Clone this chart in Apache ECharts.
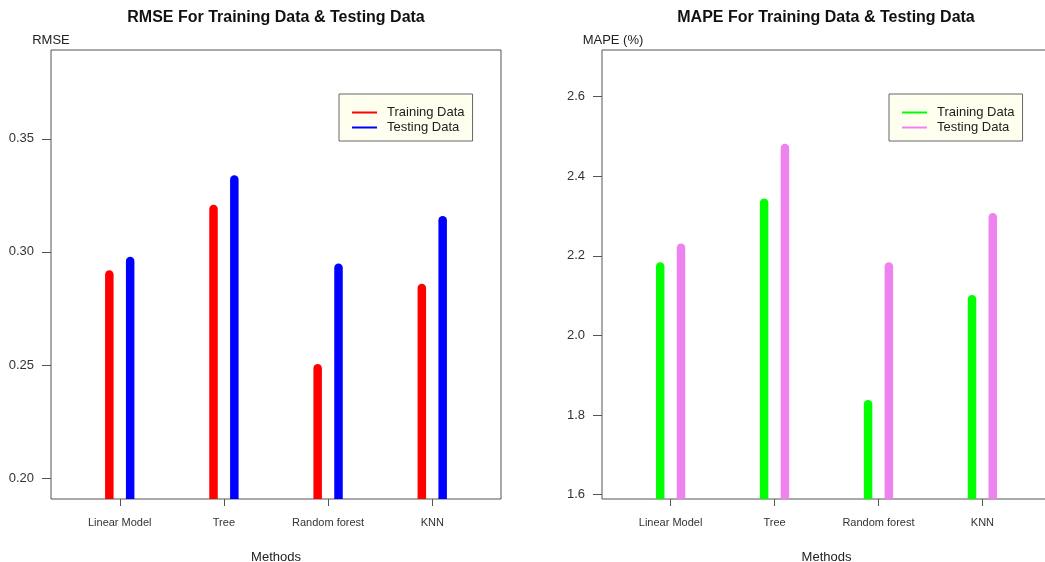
<!DOCTYPE html>
<html><head><meta charset="utf-8">
<script src="https://cdn.jsdelivr.net/npm/echarts@6/dist/echarts.min.js"></script>
<style>html,body{margin:0;padding:0;background:#fff}#c{width:1045px;height:562px}</style>
</head><body><div id="c"></div>
<script>
// ---- data ----
const methods = ['Linear Model', 'Tree', 'Random forest', 'KNN'];
const rmseTrain = [0.290, 0.319, 0.2485, 0.284];
const rmseTest  = [0.296, 0.332, 0.293, 0.314];
const mapeTrain = [2.173, 2.333, 1.827, 2.091];
const mapeTest  = [2.220, 2.471, 2.173, 2.297];
const rmseTicks = [0.20, 0.25, 0.30, 0.35];
const mapeTicks = [1.6, 1.8, 2.0, 2.2, 2.4, 2.6];
const seriesLabels = ['Training Data', 'Testing Data'];
const titles = ['RMSE For Training Data & Testing Data', 'MAPE For Training Data & Testing Data'];
const yNames = ['RMSE', 'MAPE (%)'];
const xName = 'Methods';

// ---- styling / layout ----
const FONT = '"Liberation Sans", Arial, Helvetica, sans-serif';
const OFFSET = 0.1; // pair offset around each category position
const catPos = methods.map((m, i) => i + 1);

function pts(vals, sign) { return vals.map((v, i) => [catPos[i] + sign * OFFSET, v]); }

function stick(color) {
  return function (params, api) {
    const top = api.coord([api.value(0), api.value(1)]);
    const base = params.coordSys.y + params.coordSys.height + 10;
    return {
      type: 'line',
      shape: { x1: top[0], y1: base, x2: top[0], y2: top[1] },
      style: { stroke: color, lineWidth: 8.5, lineCap: 'round' }
    };
  };
}

function xAxisFor(gi) {
  return {
    type: 'value', gridIndex: gi, min: 0.34, max: 4.66,
    axisLine: { show: false }, splitLine: { show: false },
    axisTick: { show: true, customValues: catPos, length: 7, lineStyle: { color: '#555' } },
    axisLabel: { customValues: catPos, formatter: v => methods[Math.round(v) - 1], fontSize: 11, color: '#333', margin: 18, fontFamily: FONT },
    name: xName, nameLocation: 'middle', nameGap: 52,
    nameTextStyle: { fontSize: 13, color: '#222', fontFamily: FONT }
  };
}
function yAxisFor(gi, min, max, ticks, dec, name, namePad) {
  return {
    type: 'value', gridIndex: gi, min: min, max: max,
    axisLine: { show: false }, splitLine: { show: false },
    axisTick: { show: true, customValues: ticks, length: 9, lineStyle: { color: '#555' } },
    axisLabel: { customValues: ticks, formatter: v => v.toFixed(dec), fontSize: 13, color: '#333', margin: 17, fontFamily: FONT },
    name: name, nameLocation: 'end', nameGap: 3,
    nameTextStyle: { fontSize: 13, color: '#222', align: 'center', padding: namePad, fontFamily: FONT }
  };
}
function legendFor(left, prefix) {
  return {
    left: left, top: 94, orient: 'vertical', selectedMode: false,
    data: seriesLabels.map(s => prefix + ' ' + s),
    formatter: n => n.replace(/^\S+ /, ''),
    icon: 'rect', itemWidth: 25, itemHeight: 2, itemGap: 0,
    padding: [11, 8, 6, 13],
    backgroundColor: '#fffff0', borderColor: '#666', borderWidth: 1,
    textStyle: { fontSize: 13, lineHeight: 15, color: '#222', padding: [0, 0, 0, 5], fontFamily: FONT }
  };
}
function seriesFor(name, data, color, xi) {
  return {
    type: 'custom', name: name, xAxisIndex: xi, yAxisIndex: xi, clip: true,
    itemStyle: { color: color }, renderItem: stick(color), data: data,
    encode: { x: 0, y: 1 }, silent: true
  };
}

const chart = echarts.init(document.getElementById('c'), null, { renderer: 'canvas' });
chart.setOption({
  backgroundColor: '#fff',
  animation: false,
  textStyle: { fontFamily: FONT },
  title: [
    { text: titles[0], left: 276, top: 10, textAlign: 'center', padding: 0, textStyle: { fontSize: 16, fontWeight: 'bold', color: '#111', fontFamily: FONT } },
    { text: titles[1], left: 826, top: 10, textAlign: 'center', padding: 0, textStyle: { fontSize: 16, fontWeight: 'bold', color: '#111', fontFamily: FONT } }
  ],
  grid: [
    { left: 51, top: 50, width: 450, height: 449, outerBoundsMode: 'none', containLabel: false, show: true, borderColor: '#555', borderWidth: 1, backgroundColor: 'transparent' },
    { left: 602, top: 50, width: 449, height: 449, outerBoundsMode: 'none', containLabel: false, show: true, borderColor: '#555', borderWidth: 1, backgroundColor: 'transparent' }
  ],
  xAxis: [xAxisFor(0), xAxisFor(1)],
  yAxis: [
    yAxisFor(0, 0.1907, 0.3893, rmseTicks, 2, yNames[0], [0, 0, 0, 0]),
    yAxisFor(1, 1.589, 2.717, mapeTicks, 1, yNames[1], [0, 0, 0, 22])
  ],
  legend: [legendFor(339, 'RMSE'), legendFor(889, 'MAPE')],
  series: [
    seriesFor('RMSE ' + seriesLabels[0], pts(rmseTrain, -1), '#ff0000', 0),
    seriesFor('RMSE ' + seriesLabels[1], pts(rmseTest, 1), '#0000ff', 0),
    seriesFor('MAPE ' + seriesLabels[0], pts(mapeTrain, -1), '#00ff00', 1),
    seriesFor('MAPE ' + seriesLabels[1], pts(mapeTest, 1), '#ee82ee', 1)
  ]
});
</script>
</body></html>
